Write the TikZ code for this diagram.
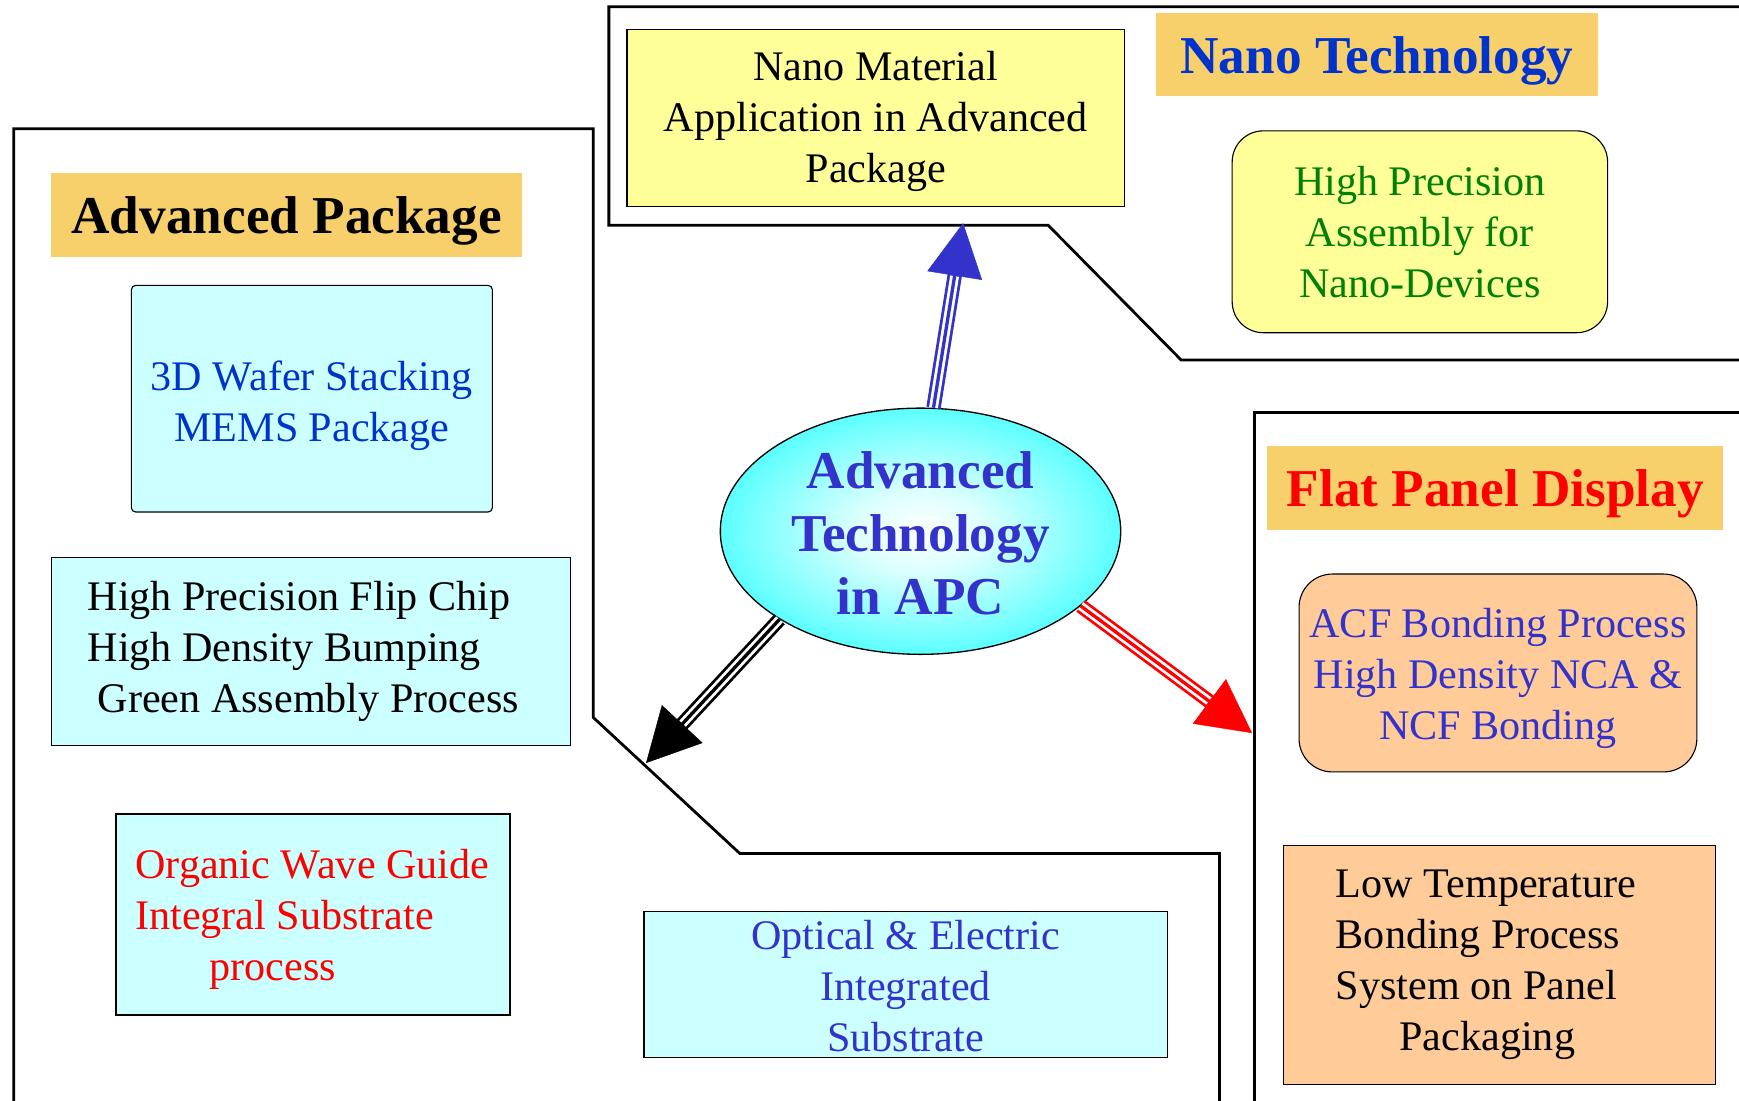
\documentclass[tikz,border=0pt]{standalone}
\usepackage{fontspec}
\setmainfont{Liberation Serif}
\usetikzlibrary{arrows.meta,shapes.geometric}

\definecolor{titlefill}{HTML}{F7D06C}
\definecolor{nanoyellow}{HTML}{FFFF99}
\definecolor{pkgcyan}{HTML}{CCFFFF}
\definecolor{fpdpeach}{HTML}{FFCC99}
\definecolor{apcblue}{HTML}{3333CC}
\definecolor{brightblue}{HTML}{0033CC}
\definecolor{assemblygreen}{HTML}{008000}
\definecolor{apccyan}{HTML}{1EFFFF}
\definecolor{fpdred}{HTML}{FF0000}

\pgfdeclareradialshading{apcglow}{\pgfpoint{0bp}{0bp}}{%
  color(0bp)=(white); color(8bp)=(white!85!apccyan); color(33bp)=(apccyan); color(50bp)=(apccyan)}

% triple-line arrow with a large filled head: colour, start, end
\newcommand\apcarrow[3]{%
  \draw[#1, line width=0.4pt, -{Triangle[length=48pt,width=50pt]}] (#2) -- (#3);
  \draw[#1, line width=13pt, shorten >=47pt] (#2) -- (#3);
  \draw[white, line width=8pt, shorten >=48.5pt] (#2) -- (#3);
  \draw[#1, line width=3pt, shorten >=47pt] (#2) -- (#3);
}
% taller first line, pushes a text block slightly down in its box
\newcommand\toplift[1]{\rule{0pt}{#1}}

\begin{document}
\begin{tikzpicture}[x=1pt, y=-1pt,
  region/.style={line width=2.5pt, line join=miter},
  heading/.style={fill=titlefill, inner sep=0pt, text depth=0pt, font=\bfseries\fontsize{48}{57}\selectfont},
  bodybox/.style={draw, line width=1pt, inner sep=0pt, font=\fontsize{38}{46}\selectfont},
]
\useasboundingbox (0,0) rectangle (1568,992);

% area outlines
\draw[region] (1580,6) -- (549,6) -- (549,203) -- (945,203) -- (1065,324.6) -- (1580,324.6);
\draw[region] (12.5,1000) -- (12.5,116) -- (535,116) -- (535,647) -- (667,769.5) -- (1099.5,769.5) -- (1099.5,1000);
\draw[region] (1131,1000) -- (1131,372) -- (1580,372);

% headings
\node[heading, minimum width=399pt, minimum height=75pt, text=brightblue] (nanoTitle) at (1241.5,49.5) {Nano Technology};
\node[heading, minimum width=425pt, minimum height=76pt, text=black] (pkgTitle) at (258.5,194) {Advanced Package};
\node[heading, minimum width=411.5pt, minimum height=75.5pt, text=fpdred] (fpdTitle) at (1348.25,439.75) {Flat Panel Display};

% nano technology items
\node[bodybox, fill=nanoyellow, minimum width=448.7pt, minimum height=159.4pt, align=center] (nanoMat) at (789.65,106.1)
  {\toplift{34pt}Nano Material\\Application in Advanced\\Package};
\node[bodybox, fill=nanoyellow, rounded corners=28pt, minimum width=338.5pt, minimum height=182pt, align=center, text=assemblygreen] (nanoAsm) at (1280.25,209)
  {High Precision\\Assembly for\\Nano-Devices};

% advanced package items
\node[bodybox, fill=pkgcyan, rounded corners=4pt, minimum width=325.6pt, minimum height=204.4pt, align=center, text=brightblue] (wafer) at (281.2,359.5)
  {\toplift{40pt}3D Wafer Stacking\\MEMS Package};
\node[bodybox, fill=pkgcyan, minimum height=169pt, text width=402.9pt, inner xsep=32.6pt, align=flush left] (flipChip) at (280.5,587.3)
  {High Precision Flip Chip\\High Density Bumping\\\hspace*{9pt}Green Assembly Process};
\node[bodybox, line width=1.6pt, fill=pkgcyan, minimum height=181.5pt, text width=320.4pt, inner xsep=17.2pt, align=flush left, text=fpdred] (waveGuide) at (282.2,824.45)
  {\toplift{35pt}\mbox{Organic Wave Guide}\\Integral Substrate\\\hspace*{67pt}process};
\node[bodybox, fill=pkgcyan, minimum width=471.7pt, minimum height=131.6pt, align=center, text=apcblue] (optical) at (816.55,887.6)
  {\toplift{30pt}Optical \& Electric\\Integrated\\Substrate};

% flat panel display items
\node[bodybox, fill=fpdpeach, rounded corners=30pt, minimum width=358.7pt, minimum height=178.4pt, align=center, text=apcblue] (acf) at (1350.65,606.8)
  {\toplift{36pt}ACF Bonding Process\\High Density NCA \&\\NCF Bonding};
\node[bodybox, line width=1.3pt, fill=fpdpeach, minimum height=215.4pt, text width=295.4pt, inner xsep=47.1pt, align=flush left] (lowTemp) at (1352.2,870.1)
  {Low Temperature\\Bonding Process\\System on Panel\\\hspace*{57.4pt}Packaging};

% centre
\node[ellipse, draw, line width=1.2pt, shading=apcglow, minimum width=361pt, minimum height=222pt, inner sep=0pt,
  label={[font=\bfseries\fontsize{48}{57}\selectfont, text=apcblue, align=center, yshift=-2pt]center:Advanced\\Technology\\in APC}] (apc) at (830,479) {};

% arrow end points on the area outlines
\coordinate (nanoTip) at (868.4,201.1);
\coordinate (pkgTip) at (582.5,688);
\coordinate (fpdTip) at (1129,661);

\apcarrow{apcblue}{apc.84.5}{nanoTip}
\apcarrow{black}{apc.212.9}{pkgTip}
\apcarrow{fpdred}{apc.335.2}{fpdTip}
\end{tikzpicture}
\end{document}
